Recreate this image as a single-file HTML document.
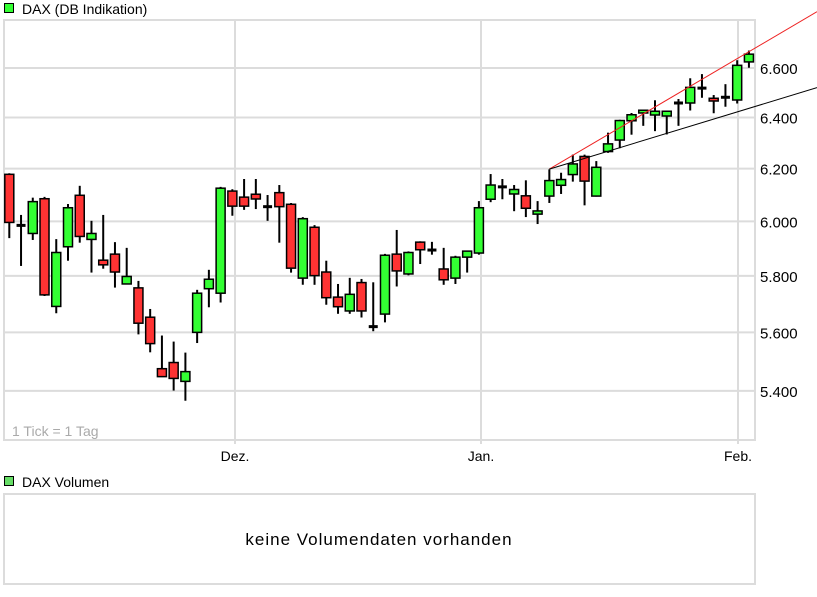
<!DOCTYPE html>
<html><head><meta charset="utf-8">
<style>
html,body{margin:0;padding:0;background:#fff;}
svg{display:block;font-family:"Liberation Sans",sans-serif;}
</style></head>
<body>
<svg id="chart" width="817" height="597" xmlns="http://www.w3.org/2000/svg">
  <rect x="4.5" y="3.5" width="9" height="9" fill="#33ff33" stroke="#000" stroke-width="1"/>
  <text x="22" y="14" font-size="14" fill="#000">DAX (DB Indikation)</text>
  <g id="grid"></g>
  <rect x="4" y="20" width="751" height="420" fill="none" stroke="#dcdcdc" stroke-width="2"/>
  <g id="ylabels"></g>
  <g id="xlabels"></g>
  <text x="12" y="436" font-size="14" fill="#aaa">1 Tick = 1 Tag</text>
  <g id="candles"></g>
  <g id="trends"></g>
  <rect x="4.5" y="476.5" width="9" height="9" fill="#66dd66" stroke="#000" stroke-width="1"/>
  <text x="22" y="487" font-size="14" fill="#000">DAX Volumen</text>
  <rect x="4" y="494" width="751" height="90" fill="none" stroke="#dcdcdc" stroke-width="2"/>
  <text x="379" y="545" font-size="17" letter-spacing="1" text-anchor="middle" fill="#000">keine Volumendaten vorhanden</text>
</svg>
<script>
const opens  = [6178,5986,5955,6085,5691,5906,6098,5933,5857,5879,5771,5757,5653,5475,5496,5432,5600,5754,5738,6114,6091,6102,6056,6108,6064,5792,5978,5814,5724,5675,5776,5621,5664,5879,5807,5923,5895,5825,5792,5868,5883,6083,6131,6103,6096,6027,6095,6136,6177,6247,6095,6266,6311,6387,6418,6410,6406,6457,6458,6519,6477,6480,6470,6625];
const highs  = [6182,6024,6089,6092,5934,6065,6134,6002,6024,5923,5902,5782,5682,5589,5568,5530,5750,5822,6130,6121,6160,6160,6099,6137,6069,6016,5986,5855,5771,5793,5789,5777,5880,5968,5889,5926,5924,5902,5873,5891,6076,6179,6160,6137,6155,6076,6197,6184,6254,6254,6229,6340,6391,6418,6431,6469,6427,6474,6558,6575,6490,6534,6632,6672];
const lows   = [5938,5836,5931,5728,5667,5855,5921,5812,5826,5758,5770,5593,5531,5447,5401,5367,5563,5688,5705,6021,6043,6046,6002,5921,5812,5768,5768,5697,5665,5665,5652,5604,5635,5762,5802,5843,5877,5768,5771,5812,5877,6072,6083,6038,6016,5990,6069,6103,6150,6060,6093,6261,6279,6332,6367,6346,6333,6367,6428,6479,6417,6443,6456,6601];
const closes = [5996,5984,6074,5732,5885,6051,5944,5955,5840,5814,5798,5632,5561,5448,5442,5465,5738,5788,6125,6057,6057,6084,6054,6055,5828,6010,5801,5722,5690,5734,5675,5619,5875,5818,5885,5895,5893,5786,5868,5890,6051,6137,6129,6120,6049,6039,6154,6158,6218,6152,6205,6296,6388,6411,6429,6425,6425,6459,6521,6517,6466,6482,6611,6657];
const yTicks = [5400,5600,5800,6000,6200,6400,6600];
const yTickLabels = ["5.400","5.600","5.800","6.000","6.200","6.400","6.600"];
const monthIdx = [19.2, 40.2, 62.1];
const monthLabels = ["Dez.","Jan.","Feb."];
const trendStart = [46, 6198];
const trendRedEnd = [68.8, 6835];
const trendBlackEnd = [68.8, 6520];

const NS="http://www.w3.org/2000/svg";
function X(i){return 9.3+i*11.74;}
function Y(p){return 68-Math.log(p/6600)*1609;}
function mk(tag,attrs,parent){const e=document.createElementNS(NS,tag);for(const k in attrs)e.setAttribute(k,attrs[k]);parent.appendChild(e);return e;}
const grid=document.getElementById('grid'),yl=document.getElementById('ylabels'),xl=document.getElementById('xlabels'),cg=document.getElementById('candles'),tg=document.getElementById('trends');
yTicks.forEach((t,k)=>{
  const l=mk('line',{x1:4,x2:755,y1:Y(t),y2:Y(t),stroke:'#dcdcdc','stroke-width':2},grid);
  
  
  const tx=mk('text',{x:760,y:Y(t)+6,'font-size':15,fill:'#000'},yl);
  tx.textContent=yTickLabels[k];
  
  
});
monthIdx.forEach((m,k)=>{
  const x=Math.round(X(m));
  const l=mk('line',{x1:x,x2:x,y1:20,y2:444,stroke:'#dcdcdc','stroke-width':2},grid);
  
  
  const tx=mk('text',{x:x,y:461,'font-size':14,'text-anchor':'middle',fill:'#000'},xl);
  tx.textContent=monthLabels[k];
  
  
});
opens.forEach((o,i)=>{
  const c=closes[i],x=X(i);
  const g=mk('g',{},cg);
  
  
  mk('line',{x1:x,x2:x,y1:Y(highs[i]),y2:Y(lows[i]),stroke:'#000','stroke-width':2},g);
  const top=Y(Math.max(o,c)),bot=Y(Math.min(o,c));
  if(bot-top<2.5){
    mk('rect',{x:x-4.5,y:(top+bot)/2-1.5,width:9,height:3,fill:'#000'},g);
  } else {
    mk('rect',{x:x-4.5,y:top,width:9,height:bot-top,fill:c>=o?'#33ff33':'#ff3333',stroke:'#000','stroke-width':1.5},g);
  }
});
const r=mk('line',{x1:X(trendStart[0]),y1:Y(trendStart[1]),x2:X(trendRedEnd[0]),y2:Y(trendRedEnd[1]),stroke:'#ee2222','stroke-width':1},tg);


const b=mk('line',{x1:X(trendStart[0]),y1:Y(trendStart[1]),x2:X(trendBlackEnd[0]),y2:Y(trendBlackEnd[1]),stroke:'#000','stroke-width':1},tg);


</script>
</body></html>
